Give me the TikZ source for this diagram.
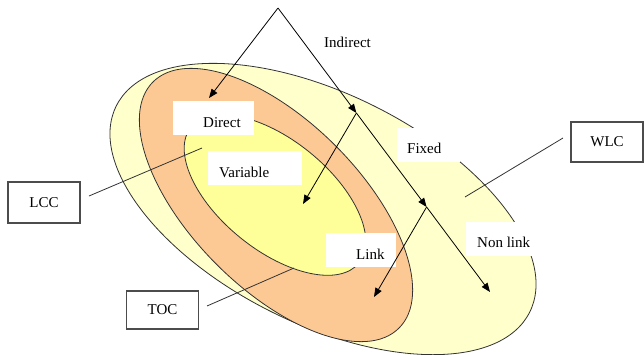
\documentclass[tikz,border=0pt]{standalone}
\usepackage{fontspec}
\setmainfont{Liberation Serif}
\usetikzlibrary{arrows.meta}
\definecolor{outerfill}{HTML}{FFFFCC}
\definecolor{midfill}{HTML}{FCC994}
\definecolor{innerfill}{HTML}{FFFF99}
\begin{document}
\begin{tikzpicture}[x=1pt, y=-1pt,
  font=\fontsize{15}{18}\selectfont,
  zone/.style={draw=black!80, line width=0.8pt},
  whitebox/.style={fill=white, inner sep=0pt, anchor=north west},
  tagbox/.style={draw=black!70, line width=1.1pt, fill=white, inner sep=0pt,
    minimum width=72pt, minimum height=40pt},
  lbl/.style={inner sep=0pt, anchor=base west},
  leader/.style={draw=black!80, line width=0.8pt},
  flow/.style={draw=black, line width=0.8pt, -{Triangle[length=9pt,width=7pt]}},
]
\useasboundingbox (0,0) rectangle (644,354);

% nested zones
\draw[zone, fill=outerfill, shift={(323,209)}, rotate=-26.5]
  (0,0) ellipse [x radius=231pt, y radius=115pt];
\draw[zone, fill=midfill, shift={(276,205)}, rotate=-45]
  (0,0) ellipse [x radius=174pt, y radius=84pt];
\draw[zone, fill=innerfill, shift={(275,195)}, rotate=-39]
  (0,0) ellipse [x radius=108pt, y radius=55pt];

% white label panels
\node[whitebox, minimum width=81pt, minimum height=34pt] (directbox) at (173,101) {};
\node[whitebox, minimum width=94pt, minimum height=34pt] (variablebox) at (208,151) {};
\node[whitebox, minimum width=63pt, minimum height=34pt] (fixedbox) at (397,128) {};
\node[whitebox, minimum width=70pt, minimum height=34pt] (linkbox) at (326,233) {};
\node[whitebox, minimum width=70pt, minimum height=34pt] (nonlinkbox) at (466,222) {};

% labels
\node[lbl] (indirect) at (324,47) {Indirect};
\node[lbl] (direct) at (203,127) {Direct};
\node[lbl] (variable) at (219,177) {Variable};
\node[lbl] (fixed) at (407,153) {Fixed};
\node[lbl] (link) at (356,259) {Link};
\node[lbl] (nonlink) at (477,247) {Non link};

% framed tags
\node[tagbox, minimum height=41pt] (lcc) at (44,202.5) {LCC};
\node[tagbox, minimum height=38pt] (toc) at (162.5,310) {TOC};
\node[tagbox] (wlc) at (607,142) {WLC};

% leader lines
\coordinate (lccfrom) at (89,196);
\coordinate (lccto) at (202,148);
\coordinate (tocfrom) at (207,306);
\coordinate (tocto) at (294,268);
\coordinate (wlcfrom) at (563,138);
\coordinate (wlcto) at (465,197);
\draw[leader] (lccfrom) -- (lccto);
\draw[leader] (tocfrom) -- (tocto);
\draw[leader] (wlcfrom) -- (wlcto);

% classification arrows
\coordinate (apex) at (278,8);
\coordinate (split1) at (356.4,113);
\coordinate (split2) at (426.6,207);
\coordinate (directend) at (209,98);
\coordinate (variableend) at (303,204);
\coordinate (linkend) at (374,297);
\coordinate (nonlinkend) at (490,292);
\draw[flow] (apex) -- (directend);
\draw[flow] (apex) -- (split1);
\draw[flow] (split1) -- (split2);
\draw[flow] (split2) -- (nonlinkend);
\draw[flow] (split1) -- (variableend);
\draw[flow] (split2) -- (linkend);
\end{tikzpicture}
\end{document}
